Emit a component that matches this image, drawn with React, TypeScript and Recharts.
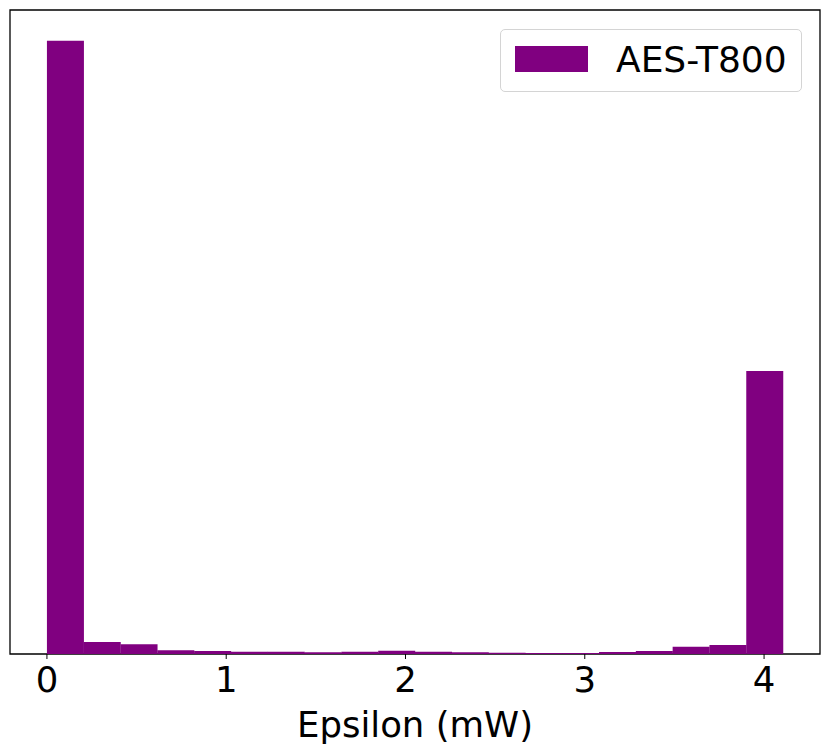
import { ComposedChart, Bar, XAxis, YAxis, Legend, Label, ReferenceArea } from 'recharts';

// histogram bins: left edge of each bin (mW) and its count
const binStarts = [
  0.0, 0.2053, 0.4106, 0.6159, 0.8212, 1.0265, 1.2318, 1.4371, 1.6424, 1.8477,
  2.053, 2.2583, 2.4636, 2.6689, 2.8742, 3.0795, 3.2848, 3.4901, 3.6954, 3.9007,
];
const binWidth = 0.2053;
const counts = [
  6125, 120, 97, 37, 30, 23, 23, 17, 23, 33,
  23, 17, 13, 10, 10, 20, 30, 73, 90, 2825,
];
const xTicks = [0, 1, 2, 3, 4];
const seriesName = 'AES-T800';

const data = binStarts.map((start, i) => ({
  center: start + binWidth / 2,
  count: counts[i],
}));

const FONT = '"DejaVu Sans", sans-serif';
const PURPLE = '#800080';
const yMax = Math.max(...counts) * 1.05;
const xMin = -0.206;
const xMax = 4.312;

function LegendBox() {
  return (
    <div
      style={{
        position: 'relative',
        width: 302,
        height: 63,
        boxSizing: 'border-box',
        border: '1px solid #d4d4d4',
        borderRadius: 5,
        background: 'rgba(255,255,255,0.8)',
        fontFamily: FONT,
      }}
    >
      <div style={{ position: 'absolute', left: 14, top: 16, width: 73, height: 26, background: PURPLE }} />
      <span style={{ position: 'absolute', left: 115, top: 12, fontSize: 36, lineHeight: '36px', color: '#000' }}>
        {seriesName}
      </span>
    </div>
  );
}

export default function App() {
  return (
    <div style={{ position: 'absolute', left: 0, top: 0, background: '#fff' }}>
      <ComposedChart
        width={831}
        height={751}
        data={data}
        margin={{ top: 10, right: 11, left: 10, bottom: 0 }}
        barCategoryGap={0}
        barGap={0}
      >
        <XAxis
          dataKey="center"
          type="number"
          domain={[xMin, xMax]}
          allowDataOverflow
          ticks={xTicks}
          height={97}
          tickSize={5}
          tickMargin={8}
          axisLine={false}
          tickLine={{ stroke: '#000', strokeWidth: 1 }}
          tick={{ fontSize: 35.5, fill: '#000', fontFamily: FONT }}
        >
          <Label
            value="Epsilon (mW)"
            position="insideBottom"
            offset={14}
            style={{ fontSize: 35.5, fill: '#000', fontFamily: FONT }}
          />
        </XAxis>
        <YAxis domain={[0, yMax]} allowDataOverflow hide />
        <Legend
          layout="horizontal"
          verticalAlign="middle"
          align="center"
          content={() => <LegendBox />}
          wrapperStyle={{ position: 'absolute', left: 500, top: 29, width: 302, height: 63 }}
        />
        <Bar
          dataKey="count"
          name={seriesName}
          fill={PURPLE}
          isAnimationActive={false}
        />
        <ReferenceArea
          x1={xMin}
          x2={xMax}
          y1={0}
          y2={yMax}
          fill="none"
          stroke="#000"
          strokeWidth={1.3}
          ifOverflow="visible"
        />
      </ComposedChart>
    </div>
  );
}
